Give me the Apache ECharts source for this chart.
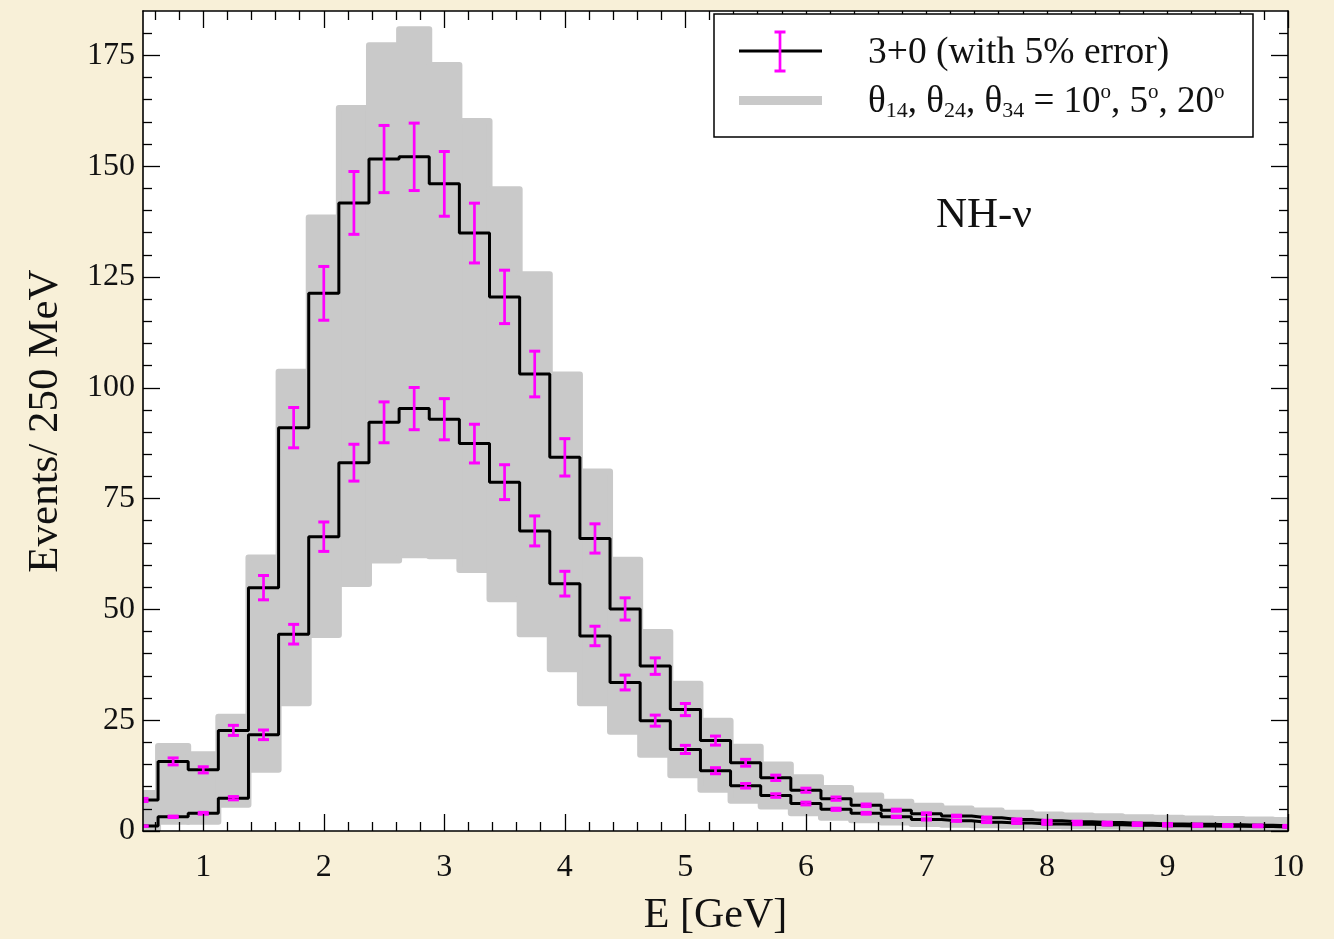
<!DOCTYPE html>
<html>
<head>
<meta charset="utf-8">
<script src="https://cdn.jsdelivr.net/npm/echarts@6/dist/echarts.min.js"></script>
<style>
html,body{margin:0;padding:0;background:#f8f0d8;}
#chart{width:1334px;height:939px;}
</style>
</head>
<body>
<div id="chart"></div>
<script>
// ---- data (bin centres, 250 MeV bins) ----
const energy = [0.5,0.75,1.0,1.25,1.5,1.75,2.0,2.25,2.5,2.75,3.0,3.25,3.5,3.75,4.0,4.25,4.5,4.75,5.0,5.25,5.5,5.75,6.0,6.25,6.5,6.75,7.0,7.25,7.5,7.75,8.0,8.25,8.5,8.75,9.0,9.25,9.5,9.75,10.0];
const upper = [7.0,15.7,13.8,22.7,54.9,91.0,121.3,141.7,151.6,152.1,146.0,134.9,120.5,103.1,84.3,66.0,50.1,37.2,27.4,20.4,15.4,12.0,9.2,7.3,5.8,4.7,3.9,3.4,3.0,2.6,2.3,2.1,1.9,1.75,1.6,1.5,1.4,1.3,1.2];
const lower = [1.1,3.2,4.0,7.4,21.7,44.4,66.4,83.1,92.2,95.3,92.9,87.4,78.7,67.7,55.8,44.0,33.5,24.9,18.4,13.6,10.2,8.0,6.2,4.9,4.0,3.2,2.6,2.3,2.0,1.8,1.6,1.5,1.4,1.3,1.2,1.1,1.05,1.0,0.9];
const bandHi = [8.6,19.2,17.3,25.8,61.7,103.6,138.4,163.1,177.3,180.9,172.8,160.2,144.8,125.6,103.0,81.1,61.2,44.9,33.2,24.9,19.0,15.0,12.1,9.7,8.0,6.6,5.7,5.1,4.6,4.1,3.7,3.5,3.3,3.1,3.0,2.8,2.7,2.6,2.5];
const bandLo = [0,2.1,2.1,5.9,13.8,28.8,44.2,55.7,61.0,62.2,62.0,58.9,52.3,44.4,36.5,28.8,22.4,17.2,12.6,9.3,6.8,5.5,4.0,3.0,2.4,1.9,1.6,1.4,1.3,1.2,1.1,1.05,1.0,0.95,0.9,0.9,0.85,0.85,0.8];
const errFrac = 0.05; // "with 5% error"

// ---- axes ----
const xMajor = [1,2,3,4,5,6,7,8,9,10];
const yMajor = [0,25,50,75,100,125,150,175];
const xMinor = [];
for (let v = 6; v < 100; v += 2) { if (v % 10 !== 0) xMinor.push(v / 10); }
const yMinor = [];
for (let v = 5; v <= 180; v += 5) { if (v % 25 !== 0) yMinor.push(v); }

const FONT = 'Liberation Serif';
const MAG = '#ff00ff';
const GRAY = '#c9c9c9';

const chart = echarts.init(document.getElementById('chart'), null, {renderer: 'canvas'});

function xAx(grid, pos, ticks, len, labels) {
  return {
    type: 'value', gridIndex: grid, position: pos, min: 0.5, max: 10, z: 10,
    axisLine: {show: grid === 0, onZero: false, lineStyle: {color: '#000', width: 1.6}},
    axisTick: {show: true, inside: true, length: len, customValues: ticks, lineStyle: {color: '#000', width: 1.3}},
    axisLabel: labels ? {show: true, customValues: ticks, margin: 21, color: '#111', fontFamily: FONT, fontSize: 32} : {show: false},
    splitLine: {show: false}
  };
}
function yAx(grid, pos, ticks, len, labels) {
  return {
    type: 'value', gridIndex: grid, position: pos, min: 0, max: 185, z: 10,
    axisLine: {show: grid === 0, onZero: false, lineStyle: {color: '#000', width: 1.6}},
    axisTick: {show: true, inside: true, length: len, customValues: ticks, lineStyle: {color: '#000', width: 1.3}},
    axisLabel: labels ? {show: true, customValues: ticks, margin: 8, color: '#111', fontFamily: FONT, fontSize: 32} : {show: false},
    splitLine: {show: false}
  };
}

const xAxes = [xAx(0,'bottom',xMajor,17,true), xAx(0,'top',xMajor,17,false), xAx(1,'bottom',xMinor,9,false), xAx(1,'top',xMinor,9,false)];
xAxes[0].name = 'E [GeV]';
xAxes[0].nameLocation = 'middle';
xAxes[0].nameGap = 64;
xAxes[0].nameTextStyle = {fontFamily: FONT, fontSize: 42, color: '#111'};
const yAxes = [yAx(0,'left',yMajor,17,true), yAx(0,'right',yMajor,17,false), yAx(1,'left',yMinor,9,false), yAx(1,'right',yMinor,9,false)];
yAxes[0].name = 'Events/ 250 MeV';
yAxes[0].nameLocation = 'middle';
yAxes[0].nameGap = 76;
yAxes[0].nameTextStyle = {fontFamily: FONT, fontSize: 43, color: '#111'};

function errRender(params, api) {
  const x = api.value(0), v = api.value(1), e = api.value(2);
  const t = api.coord([x, v + e]);
  const b = api.coord([x, v - e]);
  const hw = 5.5;
  const st = {stroke: MAG, lineWidth: 2.7};
  return {type: 'group', children: [
    {type: 'line', shape: {x1: t[0], y1: t[1], x2: b[0], y2: b[1]}, style: st},
    {type: 'line', shape: {x1: t[0]-hw, y1: t[1], x2: t[0]+hw, y2: t[1]}, style: {stroke: MAG, lineWidth: 3}},
    {type: 'line', shape: {x1: b[0]-hw, y1: b[1], x2: b[0]+hw, y2: b[1]}, style: {stroke: MAG, lineWidth: 3}}
  ]};
}

const option = {
  backgroundColor: '#f8f0d8',
  animation: false,
  grid: [
    {left: 143, right: 46, top: 11, bottom: 108, show: true, backgroundColor: '#ffffff', borderWidth: 0, containLabel: false, outerBoundsMode: 'none'},
    {left: 143, right: 46, top: 11, bottom: 108, show: false, containLabel: false, outerBoundsMode: 'none'}
  ],
  xAxis: xAxes,
  yAxis: yAxes,
  series: [
    {
      type: 'custom', xAxisIndex: 0, yAxisIndex: 0, clip: true, z: 1,
      encode: {x: 0, y: [1, 2]},
      data: energy.map((e, i) => [e, bandLo[i], bandHi[i]]),
      renderItem: function (params, api) {
        const x = api.value(0);
        const p0 = api.coord([x - 0.125, api.value(2)]);
        const p1 = api.coord([x + 0.125, api.value(1)]);
        return {type: 'rect', shape: {x: p0[0], y: p0[1], width: p1[0] - p0[0], height: p1[1] - p0[1]},
          style: {fill: GRAY, stroke: GRAY, lineWidth: 6, lineJoin: 'round'}};
      }
    },
    {
      type: 'line', xAxisIndex: 0, yAxisIndex: 0, step: 'middle', showSymbol: false, symbol: 'none', z: 3,
      data: energy.map((e, i) => [e, upper[i]]),
      lineStyle: {color: '#000', width: 3}
    },
    {
      type: 'line', xAxisIndex: 0, yAxisIndex: 0, step: 'middle', showSymbol: false, symbol: 'none', z: 3,
      data: energy.map((e, i) => [e, lower[i]]),
      lineStyle: {color: '#000', width: 3}
    },
    {
      type: 'custom', xAxisIndex: 0, yAxisIndex: 0, clip: true, z: 5,
      encode: {x: 0, y: 1},
      data: energy.map((e, i) => [e, upper[i], upper[i] * errFrac]).concat(energy.map((e, i) => [e, lower[i], lower[i] * errFrac])),
      renderItem: errRender
    }
  ],
  graphic: [
    {type: 'rect', z: 100, shape: {x: 714, y: 14, width: 539, height: 123}, style: {fill: '#fff', stroke: '#000', lineWidth: 1.5}},
    {type: 'line', z: 101, shape: {x1: 739, y1: 51, x2: 822, y2: 51}, style: {stroke: '#000', lineWidth: 3}},
    {type: 'line', z: 102, shape: {x1: 780, y1: 32, x2: 780, y2: 71}, style: {stroke: MAG, lineWidth: 2.7}},
    {type: 'line', z: 102, shape: {x1: 774.5, y1: 32, x2: 785.5, y2: 32}, style: {stroke: MAG, lineWidth: 3}},
    {type: 'line', z: 102, shape: {x1: 774.5, y1: 71, x2: 785.5, y2: 71}, style: {stroke: MAG, lineWidth: 3}},
    {type: 'rect', z: 101, shape: {x: 739, y: 96, width: 83, height: 9}, style: {fill: GRAY}},
    {type: 'text', z: 101, x: 868, y: 53, style: {text: '3+0 (with 5% error)', fontFamily: FONT, fontSize: 37.5, fill: '#111', verticalAlign: 'middle'}},
    {type: 'text', z: 101, x: 868, y: 102, style: {
      text: '{t|θ}{s|14}{t|, θ}{s|24}{t|, θ}{s|34}{t| = 10}{p|o}{t|, 5}{p|o}{t|, 20}{p|o}',
      verticalAlign: 'middle', fill: '#111',
      rich: {
        t: {fontFamily: FONT, fontSize: 37, lineHeight: 40, fill: '#111'},
        s: {fontFamily: FONT, fontSize: 22, lineHeight: 18, verticalAlign: 'bottom', fill: '#111'},
        p: {fontFamily: FONT, fontSize: 21, lineHeight: 22, verticalAlign: 'top', fill: '#111'}
      }
    }},
    {type: 'text', z: 101, x: 936, y: 216, style: {text: 'NH-ν', fontFamily: FONT, fontSize: 43, fill: '#111', verticalAlign: 'middle'}}
  ]
};
chart.setOption(option);
</script>
</body>
</html>
